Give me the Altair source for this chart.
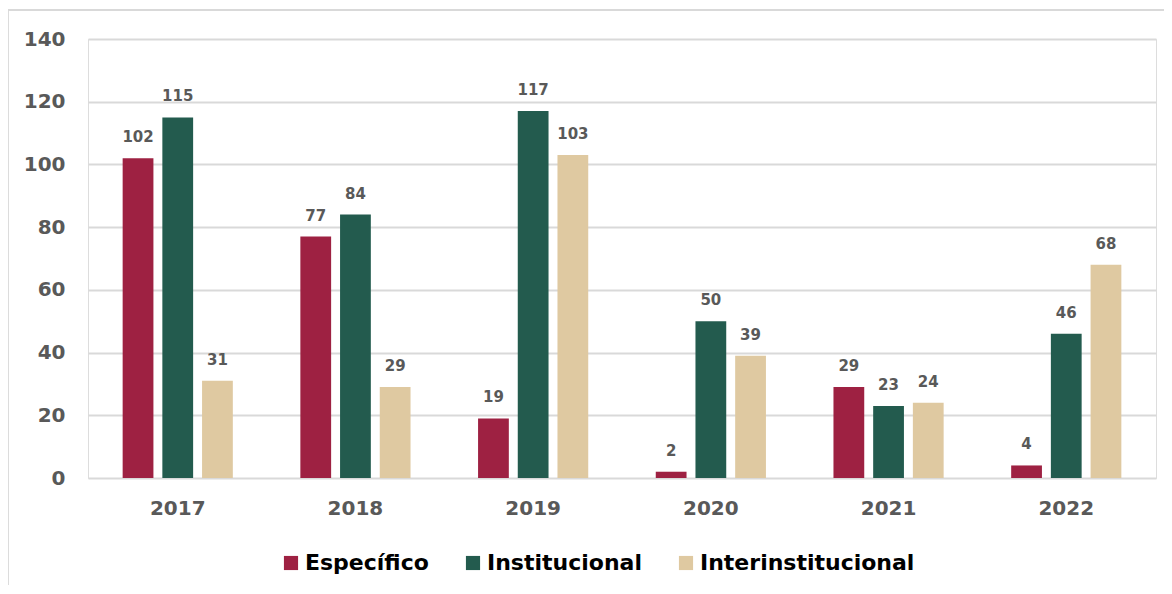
import altair as alt
import pandas as pd

years = ["2017", "2018", "2019", "2020", "2021", "2022"]
tipos = ["Específico", "Institucional", "Interinstitucional"]
especifico = [102, 77, 19, 2, 29, 4]
institucional = [115, 84, 117, 50, 23, 46]
interinstitucional = [31, 29, 103, 39, 24, 68]
colors = ["#9E2142", "#235B4E", "#DFC9A1"]
y_ticks = [0, 20, 40, 60, 80, 100, 120, 140]

rows = []
for tipo, vals in zip(tipos, [especifico, institucional, interinstitucional]):
    for y, v in zip(years, vals):
        rows.append({"Año": y, "Tipo": tipo, "Valor": v})
df = pd.DataFrame(rows)

FONT = "DejaVu Sans"

x = alt.X("Año:N", sort=years, title=None,
          scale=alt.Scale(paddingInner=0.38, paddingOuter=0.195),
          axis=alt.Axis(labelAngle=0, labelFont=FONT, labelFontSize=20,
                        labelFontWeight="bold", labelColor="#595959",
                        labelPadding=20, ticks=False, domain=False))
xo = alt.XOffset("Tipo:N", sort=tipos,
                 scale=alt.Scale(paddingInner=0.225, paddingOuter=0))
y = alt.Y("Valor:Q", title=None,
          scale=alt.Scale(domain=[0, 140], nice=False),
          axis=alt.Axis(values=y_ticks, labelFont=FONT, labelFontSize=20,
                        labelFontWeight="bold", labelColor="#595959",
                        labelPadding=23, ticks=False, domain=False,
                        grid=True, gridColor="#D9D9D9", gridWidth=2))

bars = alt.Chart(df).mark_bar().encode(
    x=x, xOffset=xo, y=y,
    color=alt.Color("Tipo:N", sort=tipos,
                    scale=alt.Scale(domain=tipos, range=colors),
                    legend=alt.Legend(title=None, orient="none", direction="horizontal",
                                      legendX=192, legendY=513, padding=0,
                                      symbolType="square", symbolSize=200,
                                      symbolStrokeWidth=0, labelFont=FONT,
                                      labelFontSize=22, labelFontWeight="bold",
                                      labelColor="#000000", labelOffset=3,
                                      columnPadding=33, labelLimit=400)),
)

labels = alt.Chart(df).mark_text(
    baseline="bottom", dy=-13, font=FONT, fontSize=15, fontWeight="bold",
    color="#595959"
).encode(x=x, xOffset=xo, y=y, text="Valor:Q")

frame_left = alt.Chart(df).mark_rule(color="#D9D9D9", strokeWidth=1.5).encode(
    x=alt.value(-80.5), y=alt.value(-29), y2=alt.value(600))
frame_top = alt.Chart(df).mark_rule(color="#D9D9D9", strokeWidth=1.5).encode(
    x=alt.value(-80.5), x2=alt.value(1100), y=alt.value(-29))

chart = alt.layer(frame_left, frame_top, bars, labels).properties(
    width=1068, height=439,
    autosize=alt.AutoSizeParams(type="none"),
    padding={"left": 80, "top": 31, "right": 8, "bottom": 107},
).configure_view(stroke=None).configure(background="white")

chart.save("out.html", embed_options={"renderer": "svg", "actions": False})
